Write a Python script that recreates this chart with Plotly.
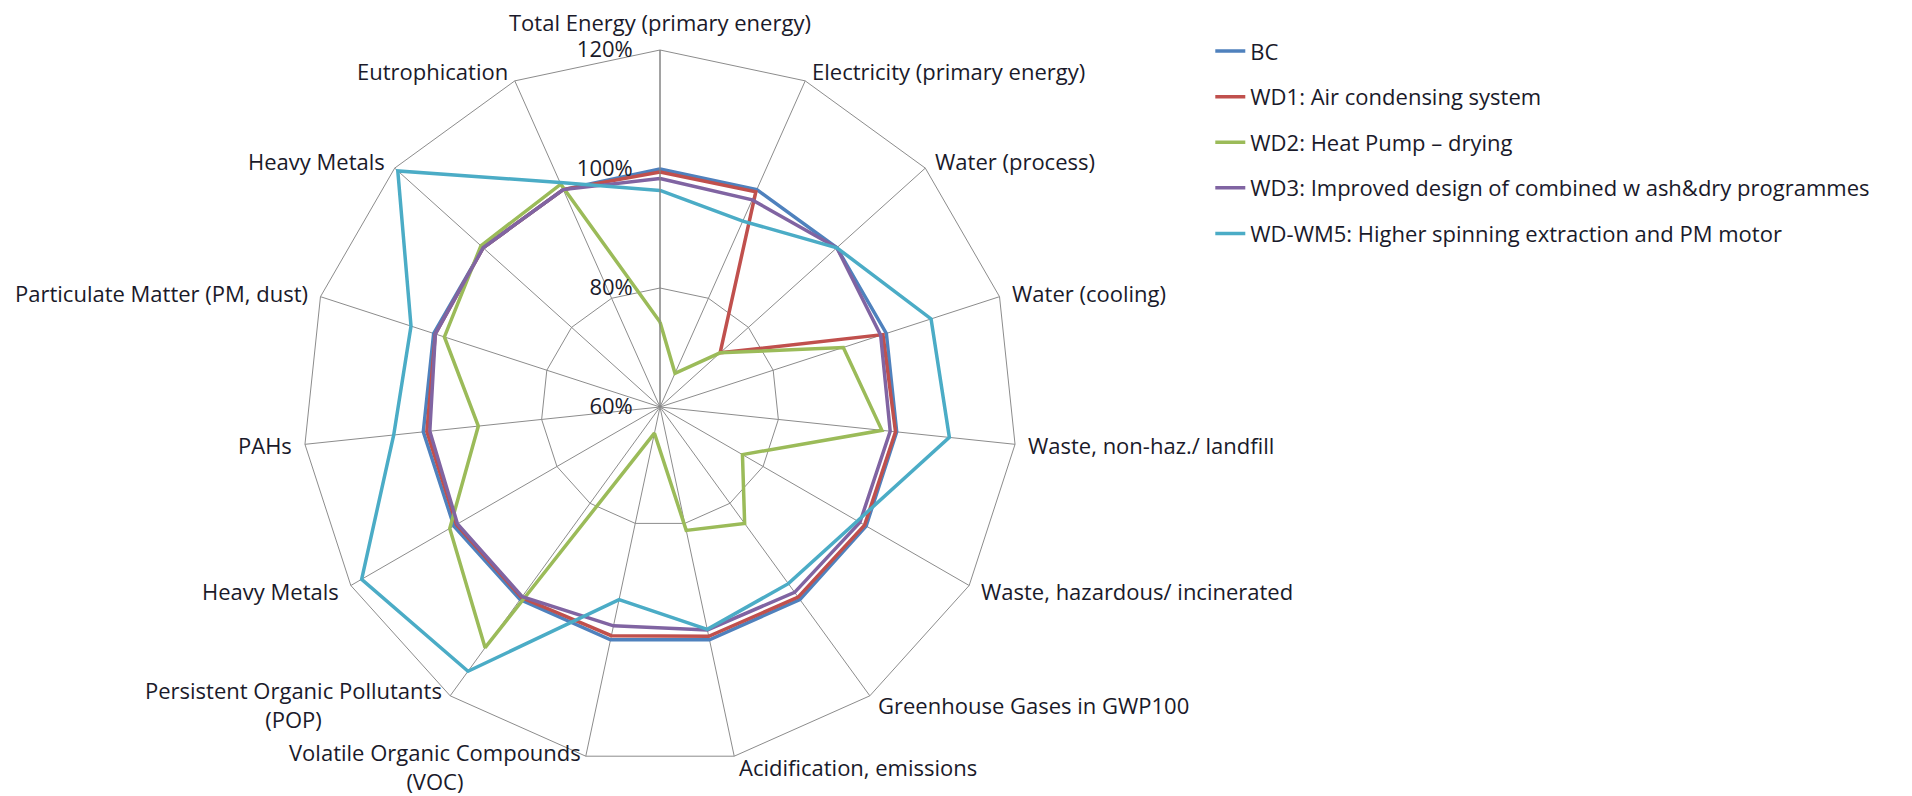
import math
import plotly.graph_objects as go

# impact categories, clockwise from the top
labels = [
    "Total Energy (primary energy)",
    "Electricity (primary energy)",
    "Water (process)",
    "Water (cooling)",
    "Waste, non-haz./ landfill",
    "Waste, hazardous/ incinerated",
    "Greenhouse Gases in GWP100",
    "Acidification, emissions",
    "Volatile Organic Compounds<br>(VOC)",
    "Persistent Organic Pollutants<br>(POP)",
    "Heavy Metals",
    "PAHs",
    "Particulate Matter (PM, dust)",
    "Heavy Metals",
    "Eutrophication",
]
# "Heavy Metals" appears twice, so the axis needs unique keys
keys = ["cat%02d" % i for i in range(len(labels))]

bc = [100, 100, 100, 100, 100, 100, 100, 100, 100, 100, 100, 100, 100, 100, 100]
wd1 = [99.5, 99.6, 73.6, 99.4, 99.8, 99.7, 99.5, 99.4, 99.3, 99.6, 99.5, 99.4, 99.7, 100, 100]
wd2 = [74.3, 66.2, 73.6, 92.4, 97.5, 76.0, 84.2, 81.2, 64.5, 110.0, 100.8, 90.7, 98.1, 100.5, 101.0]
wd3 = [98.4, 98.1, 100, 99.0, 98.9, 98.8, 98.5, 98.3, 97.6, 99.4, 99.3, 98.9, 99.7, 100, 100]
wdwm5 = [96.4, 94.2, 100, 107.9, 108.9, 98.3, 96.7, 98.2, 93.1, 114.9, 117.9, 105.0, 104.0, 119.3, 101.3]

series_names = [
    "BC",
    "WD1: Air condensing system",
    "WD2: Heat Pump \u2013 drying",
    "WD3: Improved design of combined w ash&dry programmes",
    "WD-WM5: Higher spinning extraction and PM motor",
]
series_values = [bc, wd1, wd2, wd3, wdwm5]
colors = ["#4F81BD", "#C0504D", "#9BBB59", "#8064A2", "#4BACC6"]

r_ticks = [60, 80, 100, 120]
r_tick_text = ["60%", "80%", "100%", "120%"]

W, H = 1912, 796
grid = "#8c8c8c"
txt = "#1a1a2a"
fnt = "Open Sans, Arial, sans-serif"
fsize = 22

# square polar domain in pixels: centre and outer radius
cx, cy, R = 660, 407, 357

fig = go.Figure()
for i in range(len(series_names)):
    vals = series_values[i]
    fig.add_trace(go.Scatterpolar(
        r=vals + [vals[0]],
        theta=keys + [keys[0]],
        mode="lines",
        name=series_names[i],
        line=dict(color=colors[i], width=3.5),
        legendgroup=str(i),
    ))

# category labels sit just outside each spoke end, like the spreadsheet chart
n = len(labels)
for i, lab in enumerate(labels):
    a = math.radians(360.0 * i / n)
    s, c = math.sin(a), math.cos(a)
    px = cx + (R + 11) * s
    py = cy - (R + 11) * c
    if s > 0.05:
        xa = "left"
    elif s < -0.05:
        xa = "right"
    else:
        xa = "center"
    if c > 0.95:
        ya = "bottom"
    elif c < -0.99:
        ya = "top"
    else:
        ya = "middle"
    fig.add_annotation(
        x=px / W, y=1 - py / H, xref="paper", yref="paper",
        text=lab, showarrow=False, xanchor=xa, yanchor=ya, align="center",
        font=dict(family=fnt, size=fsize, color=txt),
    )

fig.update_layout(
    width=W,
    height=H,
    margin=dict(l=0, r=0, t=0, b=0),
    paper_bgcolor="white",
    plot_bgcolor="white",
    font=dict(family=fnt, size=fsize, color=txt),
    polar=dict(
        domain=dict(x=[(cx - R) / W, (cx + R) / W], y=[1 - (cy + R) / H, 1 - (cy - R) / H]),
        bgcolor="white",
        gridshape="linear",
        angularaxis=dict(
            type="category",
            categoryorder="array",
            categoryarray=keys,
            rotation=90,
            direction="clockwise",
            showgrid=True,
            gridcolor=grid,
            gridwidth=1,
            showline=True,
            linecolor=grid,
            linewidth=1,
            ticks="",
            showticklabels=False,
        ),
        radialaxis=dict(
            range=[60, 120],
            tickmode="array",
            tickvals=r_ticks,
            ticktext=r_tick_text,
            angle=90,
            side="counterclockwise",
            tickangle=90,
            showline=True,
            linecolor="#808080",
            linewidth=1,
            showgrid=True,
            gridcolor=grid,
            gridwidth=1,
            ticks="outside",
            ticklen=19,
            tickcolor="rgba(0,0,0,0)",
            tickfont=dict(family=fnt, size=fsize, color=txt),
        ),
    ),
    legend=dict(
        x=0.633,
        y=0.962,
        xanchor="left",
        yanchor="top",
        font=dict(family=fnt, size=fsize, color=txt),
        tracegroupgap=14,
        bgcolor="rgba(0,0,0,0)",
    ),
)

# the page body has a default 8px margin; drop it so the figure fills the window
fig.write_html(
    "out.html",
    config={"displayModeBar": False},
    post_script="document.body.style.margin='0px';",
)
